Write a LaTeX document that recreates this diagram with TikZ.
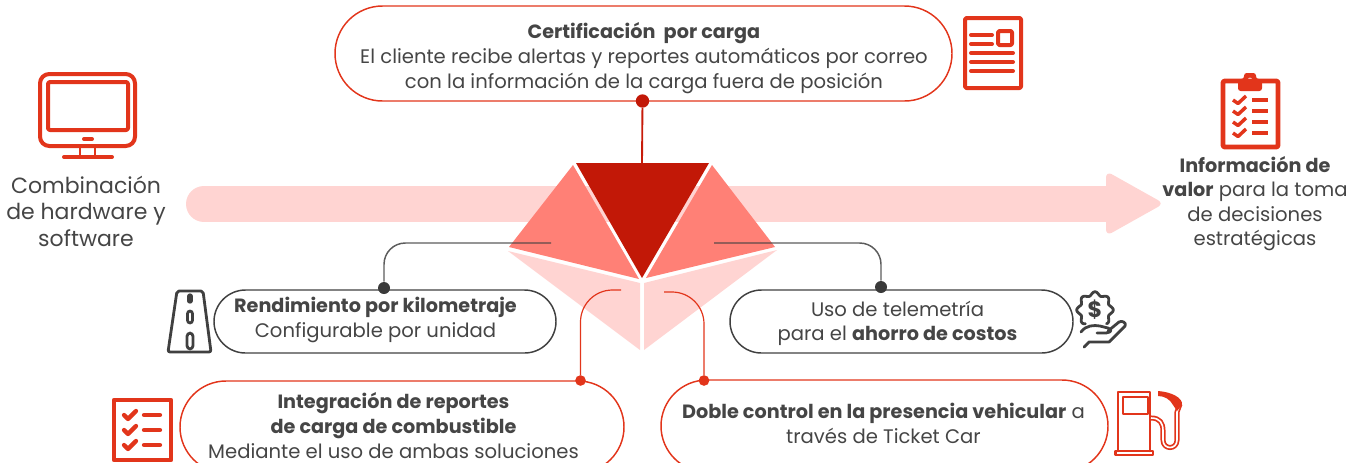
\documentclass[tikz,border=0pt]{standalone}
\usepackage{fontspec}
\setmainfont[BoldFeatures={Scale=0.98}]{Poppins}
\usetikzlibrary{positioning,shapes.misc}

\definecolor{redline}{HTML}{E2351B}
\definecolor{darkred}{HTML}{C21807}
\definecolor{salmon}{HTML}{FF8076}
\definecolor{bandpink}{HTML}{FFD4D2}
\definecolor{darkline}{HTML}{404040}
\definecolor{bodygray}{HTML}{454545}

\tikzset{
  pillred/.style={draw=redline, line width=1.1pt, rounded rectangle, inner sep=0pt},
  pilldark/.style={draw=darkline, line width=1.1pt, rounded rectangle, inner sep=0pt},
  dotred/.style={circle, fill=redline, inner sep=0pt, minimum size=8pt},
  dotdark/.style={circle, fill=darkline!90!black, inner sep=0pt, minimum size=9pt},
  dottop/.style={circle, fill=darkred, inner sep=0pt, minimum size=10pt},
  bodytext/.style={text=bodygray, align=center, inner sep=0pt, font=\fontsize{14.7}{18.6}\selectfont},
  sidetext/.style={text=bodygray, align=center, inner sep=0pt, font=\fontsize{16.5}{19.9}\selectfont},
  valortext/.style={text=bodygray, align=center, inner sep=0pt, font=\fontsize{14.7}{18.3}\selectfont},
  iconred/.style={draw=redline, line width=3pt, line join=round, line cap=round},
  icondark/.style={draw=darkline, line width=2.1pt, line join=round, line cap=round},
  linkdark/.style={draw=darkline, draw opacity=.85, line width=1.1pt},
  linkred/.style={draw=redline, line width=.9pt},
}

\begin{document}
\begin{tikzpicture}[x=.75pt, y=-.75pt]

\useasboundingbox (0,0) rectangle (1363,462);
\clip (0,0) rectangle (1363,462);

% background band and arrow head
\coordinate (bandstart) at (204,204);
\coordinate (bandend) at (1108,204);
\draw [bandpink, line width=27pt, line cap=round] (bandstart) -- (bandend);
\fill [bandpink, rounded corners=5pt] (1106,171) -- (1164,203.5) -- (1106,236) -- cycle;

% central pieces
\fill [bandpink] (508,251) -- (640,283) -- (640,350) -- cycle;
\fill [bandpink] (644,283) -- (777,250) -- (644,350) -- cycle;
\fill [salmon] (573,165) -- (639,279) -- (509,247) -- cycle;
\fill [salmon] (712,165) -- (775,247) -- (646,278) -- cycle;
\fill [darkred] (576,163) coordinate (gemleft) -- (709,163) coordinate (gemright) -- (642,278) -- cycle;
\coordinate (gemtop) at (642,163);

% pills
\node [pillred, minimum width=462.75pt, minimum height=71.25pt] (certif) at (643.5,53.5) {};
\node [pilldark, minimum width=256.5pt, minimum height=47.25pt] (rendim) at (385,321.5) {};
\node [pilldark, minimum width=257.25pt, minimum height=47.25pt] (ahorro) at (901.5,321.5) {};
\node [pillred, minimum width=333pt, minimum height=69pt] (integr) at (402,427) {};
\node [pillred, minimum width=335.25pt, minimum height=69pt] (doble) at (884.5,426) {};

% texts
\node [bodytext] at (644,58) {\textbf{Certificación\ \ por carga}\\El cliente recibe alertas y reportes automáticos por correo\\con la información de la carga fuera de posición};
\node [bodytext] (rendtext) at (375.5,320) {\textbf{Rendimiento por kilometraje}\\Configurable por unidad};
\node [bodytext, font=\fontsize{14.7}{18}\selectfont] (ahorrotext) at (897.5,323.5) {Uso de telemetría\\para el \textbf{ahorro de costos}};
\node [bodytext] (integtext) at (393.5,425.5) {\textbf{Integración de reportes}\\\textbf{de carga de combustible}\\Mediante el uso de ambas soluciones};
\node [bodytext] (dobletext) at (883.5,423.5) {\textbf{Doble control en la presencia vehicular} a\\través de Ticket Car};
\node [sidetext] (combina) at (86,211) {Combinación\\de hardware y\\software};
\node [valortext] (valor) at (1255,203.5) {\textbf{Información de}\\\textbf{valor} para la toma\\de decisiones\\estratégicas};

% dots on the pills
\node [dottop] (certifdot) at (642.5,101) {};
\node [dotdark] (renddot) at (384,288) {};
\node [dotdark] (ahorrodot) at (881,287) {};
\node [dotred] (integdot) at (580.5,380.5) {};
\node [dotred] (dobledot) at (704,380.5) {};

% connectors
\coordinate (rendfree) at (551,243);
\coordinate (ahorrofree) at (714,243);
\coordinate (integfree) at (621,290);
\coordinate (doblefree) at (664,292);
\draw [draw=darkred!85!redline, line width=1.4pt] (certifdot) -- (gemtop);
\draw [linkdark, rounded corners=16pt] (rendfree) -| (renddot);
\draw [linkdark, rounded corners=16pt] (ahorrofree) -| (ahorrodot);
\draw [linkred, rounded corners=24pt] (integfree) -| (integdot);
\draw [linkred, rounded corners=24pt] (doblefree) -| (dobledot);

% monitor icon
\draw [iconred, rounded corners=7pt] (40,74) rectangle (135,146);
\draw [iconred, rounded corners=1.5pt] (48,82) rectangle (128,130);
\draw [iconred] (84,139) -- (92,139);
\draw [iconred, line width=2.2pt] (80,146) -- (80,157) (95,146) -- (95,157);
\draw [iconred] (64,157) -- (112,157);

% document icon
\draw [iconred, rounded corners=1pt] (965,18) rectangle (1021,88);
\draw [iconred, rounded corners=1pt] (998,31) rectangle (1012,45);
\foreach \y in {35,44} \draw [iconred] (971,\y) -- (992,\y);
\foreach \y in {53,62,71} \draw [iconred] (971,\y) -- (1013,\y);

% clipboard icon
\draw [iconred, line width=3.6pt, rounded corners=1pt] (1223,81) rectangle (1278,147);
\fill [redline, even odd rule, rounded corners=2pt] (1238,91) -- (1238,79) -- (1244,79) -- (1244,73) -- (1256,73) -- (1256,79) -- (1262,79) -- (1262,91) -- cycle
  (1252.5,80) arc (0:360:2.5);
\foreach \y in {100,111,122,133} {
  \draw [iconred, line width=2.6pt, line cap=butt] (1233,\y) -- (1238,\y+3.5) -- (1246,\y-4);
  \draw [iconred, line width=3pt, line cap=butt] (1252,\y) -- (1268,\y);
}

% road icon
\draw [icondark, rounded corners=1.5pt] (177,291) -- (203,291) -- (211,352) -- (168,352) -- cycle;
\draw [icondark, line width=4pt] (190,296) -- (190,301);
\draw [icondark, rounded corners=2pt] (187.5,311) rectangle (192.5,323);
\draw [icondark, rounded corners=2.5pt] (187,333) rectangle (193,349);

% checklist icon
\draw [iconred, line width=3.6pt, line cap=butt] (114,400) rectangle (171,460);
\foreach \y in {415,430,445} {
  \draw [iconred, line width=3.2pt] (124,\y) -- (128,\y+4) -- (136,\y-4);
  \draw [iconred, line width=3.2pt] (144,\y) -- (160,\y);
}

% money hand icon
\draw [icondark] plot [smooth, domain=-50:235, samples=60] ({1095+(16.5+1.8*cos(8*\x))*cos(\x)}, {310-(16.5+1.8*cos(8*\x))*sin(\x)});
\node [text=darkline, inner sep=0pt, font=\fontsize{17}{17}\selectfont\bfseries] (moneysign) at (1095,310) {\$};
\draw [icondark] (1081,332) .. controls (1086,325) and (1094,325) .. (1100,326) -- (1108,328) .. controls (1112,330) and (1112,332) .. (1106,333) -- (1097,333);
\draw [icondark] (1084,347) -- (1089,342) -- (1109,342) -- (1125,326) .. controls (1127,323) and (1122,320) .. (1119,322) -- (1108,331);

% fuel pump icon
\draw [iconred, line width=1.9pt] (1150,417) -- (1150,392) -- (1118,392) -- (1118,451);
\draw [iconred, line width=1.9pt] (1150,417) -- (1150,451);
\draw [iconred, line width=1.9pt] (1123,397) rectangle (1148,414);
\draw [iconred, line width=1.9pt] (1115.5,451) rectangle (1153,455);
\draw [iconred, line width=1.3pt, double=white, double distance=1.2pt, line cap=butt] (1151,418) .. controls (1160,418) and (1163,423) .. (1163,431) -- (1163,440) .. controls (1163,450) and (1177,450) .. (1177,440) -- (1177,412) -- (1180,404);
\fill [redline] (1158,391) .. controls (1172,392) and (1183,398) .. (1182,405) -- (1177,411) -- (1173,405) .. controls (1170,399) and (1164,396) .. (1158,396) -- cycle;

\end{tikzpicture}
\end{document}
